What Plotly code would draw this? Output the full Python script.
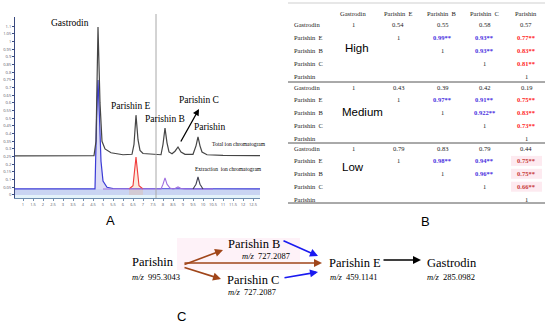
import plotly.graph_objects as go

W, H = 550, 325
def px(x): return x / W
def py(y): return 1 - y / H

# ---------------- Panel A data (chromatogram) ----------------
tic_t = [0.6, 4.55, 4.65, 4.75, 4.85, 4.95, 5.1, 5.4, 6.0, 6.45, 6.55, 6.65, 6.75, 6.85, 7.0,
         7.9, 8.0, 8.1, 8.2, 8.3, 8.45, 8.6, 8.75, 8.9, 9.1, 9.5, 9.65, 9.75, 9.85, 9.95, 10.2, 11.0, 12.85]
tic_i = [0.254, 0.256, 0.35, 1.094, 0.6, 0.35, 0.30, 0.275, 0.262, 0.265, 0.33, 0.52, 0.36, 0.29, 0.27,
         0.262, 0.33, 0.436, 0.34, 0.28, 0.268, 0.285, 0.3125, 0.28, 0.265, 0.265, 0.32, 0.378, 0.32, 0.28, 0.262, 0.258, 0.256]

eic_gas_t = [0.6, 4.6, 4.68, 4.75, 4.82, 4.9, 5.0, 5.2, 5.5, 12.85]
eic_gas_i = [0.039, 0.04, 0.5, 0.749, 0.52, 0.22, 0.09, 0.05, 0.042, 0.039]
eic_e_t = [6.3, 6.5, 6.58, 6.65, 6.72, 6.8, 7.0]
eic_e_i = [0.039, 0.06, 0.16, 0.247, 0.16, 0.06, 0.039]
eic_bc_t = [5.0, 7.9, 8.0, 8.1, 8.2, 8.35, 8.5, 8.6, 8.75, 8.9, 9.1, 10.5]
eic_bc_i = [0.039, 0.039, 0.07, 0.111, 0.07, 0.045, 0.039, 0.042, 0.052, 0.042, 0.039, 0.039]
eic_p_t = [9.5, 9.65, 9.75, 9.85, 10.0]
eic_p_i = [0.039, 0.07, 0.117, 0.07, 0.039]

x_ticks = [1 + 0.5 * i for i in range(24)]
y_ticks = [round(0.05 * i, 2) for i in range(23)]

# ---------------- Panel B data (correlation table) ----------------
col_names = ["Gastrodin", "Parishin  E", "Parishin  B", "Parishin  C", "Parishin"]
row_names = ["Gastrodin", "Parishin  E", "Parishin  B", "Parishin  C", "Parishin"]
levels = ["High", "Medium", "Low"]
high = [["1", "0.54", "0.55", "0.58", "0.57"],
        [None, "1", "0.99**", "0.93**", "0.77**"],
        [None, None, "1", "0.93**", "0.83**"],
        [None, None, None, "1", "0.81**"],
        [None, None, None, None, "1"]]
medium = [["1", "0.43", "0.39", "0.42", "0.19"],
          [None, "1", "0.97**", "0.91**", "0.75**"],
          [None, None, "1", "0.922**", "0.83**"],
          [None, None, None, "1", "0.73**"],
          [None, None, None, None, "1"]]
low = [["1", "0.79", "0.83", "0.79", "0.44"],
       [None, "1", "0.98**", "0.94**", "0.75**"],
       [None, None, "1", "0.96**", "0.75**"],
       [None, None, None, "1", "0.66**"],
       [None, None, None, None, "1"]]
tables = [high, medium, low]

# ---------------- Panel C data (pathway) ----------------
comp_names = ["Parishin", "Parishin B", "Parishin C", "Parishin E", "Gastrodin"]
comp_mz = ["995.3043", "727.2087", "727.2087", "459.1141", "285.0982"]

fig = go.Figure()

fig.add_trace(go.Scatter(x=eic_gas_t, y=eic_gas_i, mode="lines", line=dict(color="#3b3bd6", width=1.2),
                         fill="tozeroy", fillcolor="rgba(120,120,220,0.25)"))
fig.add_trace(go.Scatter(x=eic_e_t, y=eic_e_i, mode="lines", line=dict(color="#f03a3a", width=1.1),
                         fill="tozeroy", fillcolor="rgba(240,170,120,0.25)"))
fig.add_trace(go.Scatter(x=eic_bc_t, y=eic_bc_i, mode="lines", line=dict(color="#a070e0", width=1.1)))
fig.add_trace(go.Scatter(x=eic_p_t, y=eic_p_i, mode="lines", line=dict(color="#404050", width=1.1)))
fig.add_trace(go.Scatter(x=tic_t, y=tic_i, mode="lines", line=dict(color="#454545", width=1.2)))

shapes = []
shapes.append(dict(type="rect", xref="x", yref="y", x0=0.6, x1=12.85, y0=-0.02, y1=0.037,
                   fillcolor="#e4f3fa", line=dict(width=0), layer="below"))
shapes.append(dict(type="line", xref="x", yref="paper", x0=7.65, x1=7.65, y0=py(198), y1=py(14),
                   line=dict(color="#a8a8a8", width=1)))

ann = []
serif = "Liberation Serif"
sans = "Liberation Sans"

def text_ann(txt, xx, yy, size, family=serif, color="black", xanchor="center"):
    return dict(x=px(xx), y=py(yy), xref="paper", yref="paper", text=txt, showarrow=False,
                xanchor=xanchor, yanchor="middle", font=dict(family=family, size=size, color=color))

# Panel A labels
for txt, xx, yy in [("Gastrodin", 70, 23), ("Parishin E", 131, 106), ("Parishin B", 165, 119),
                    ("Parishin C", 199, 100), ("Parishin", 209, 127)]:
    ann.append(text_ann(txt, xx, yy, 9.5))
ann.append(dict(x=px(199), y=py(109), xref="paper", yref="paper", text="", showarrow=True,
                ax=-19, ay=34, arrowhead=2, arrowsize=1, arrowwidth=1.3, arrowcolor="black"))
ann.append(text_ann("Total ion chromatogram", 210, 144, 5.5, xanchor="left"))
ann.append(text_ann("Extraction  ion chromatogram", 193, 169, 5.5, xanchor="left"))

# panel letters
for txt, xx, yy in [("A", 110, 220), ("B", 425, 222), ("C", 181, 316)]:
    ann.append(text_ann(txt, xx, yy, 13, family=sans))

# Panel B table
col_x = [353, 398, 442, 484, 526]
block_y = [25, 87, 148]
row_step = 12.9
tfs = 6.5
for j, c in enumerate(col_names):
    ann.append(text_ann(c, col_x[j], 13, tfs, color="#222"))
for line_y in [3, 82, 143, 203]:
    shapes.append(dict(type="line", xref="paper", yref="paper", x0=px(288), x1=px(545),
                       y0=py(line_y), y1=py(line_y),
                       line=dict(color="#cfcfcf" if line_y == 3 else "#555", width=1)))
for b, (lvl, tab) in enumerate(zip(levels, tables)):
    y0 = block_y[b]
    for i, rn in enumerate(row_names):
        yy = y0 + i * row_step
        ann.append(text_ann(rn, 292, yy, tfs, color="#222", xanchor="left"))
        for j, v in enumerate(tab[i]):
            if v is None:
                continue
            color, txt = "#222222", v
            if "**" in v:
                if j == 4:
                    color = "#c83a3a" if lvl == "Low" else "#ff1f1f"
                    if lvl == "Low":
                        shapes.append(dict(type="rect", xref="paper", yref="paper",
                                           x0=px(511), x1=px(542), y0=py(yy + 5), y1=py(yy - 5),
                                           fillcolor="#fdeaf0", line=dict(width=0), layer="below"))
                else:
                    color = "#4a2ee0"
                txt = "<b>" + v + "</b>"
            ann.append(text_ann(txt, col_x[j], yy, tfs, color=color))
lvl_pos = [(357, 48), (362, 112), (353, 167)]
for lvl, (xx, yy) in zip(levels, lvl_pos):
    ann.append(text_ann(lvl, xx, yy, 11.5, family=sans))

# Panel C pathway
shapes.append(dict(type="rect", xref="paper", yref="paper", x0=px(177), x1=px(300), y0=py(270), y1=py(238),
                   fillcolor="#fef2f8", line=dict(width=0), layer="below"))
name_pos = [(130, 262), (226, 244), (225, 280), (327, 263), (425, 263)]
mz_pos = [(130, 277), (240, 256), (226, 292), (328, 277), (425, 277)]
for nm, mz, (nx, ny), (mx, my) in zip(comp_names, comp_mz, name_pos, mz_pos):
    ann.append(text_ann(nm, nx, ny, 12.5, xanchor="left"))
    ann.append(text_ann("<i>m/z</i>  " + mz, mx, my, 8.5, xanchor="left"))

arrows = [  # head (x,y), tail offset, color
    (223, 250, -40, 15, "#a0461a"),
    (322, 263, -139, 0, "#a0461a"),
    (221, 279, -38, -12, "#a0461a"),
    (318, 256, -36, -16, "#1a1af0"),
    (318, 272, -35, 6, "#1a1af0"),
    (421, 260, -39, 0, "black"),
]
for hx, hy, ax, ay, col in arrows:
    ann.append(dict(x=px(hx), y=py(hy), xref="paper", yref="paper", text="", showarrow=True,
                    ax=ax, ay=ay, arrowhead=2, arrowsize=1, arrowwidth=1.6, arrowcolor=col))

fig.update_layout(
    width=W, height=H, margin=dict(l=0, r=0, t=0, b=0),
    paper_bgcolor="white", plot_bgcolor="white", showlegend=False, hovermode=False,
    shapes=shapes, annotations=ann,
    xaxis=dict(domain=[px(15), px(260)], range=[0.6, 12.85], tickvals=x_ticks,
               ticktext=[("%g" % v) for v in x_ticks], tickfont=dict(size=4, color="#556"),
               showgrid=False, zeroline=False, showline=True, linecolor="#6f8fb0", linewidth=1,
               ticks="outside", ticklen=2, tickcolor="#6f8fb0", automargin=False),
    yaxis=dict(domain=[py(198), py(17)], range=[-0.02, 1.16], tickvals=y_ticks,
               ticktext=[("%g" % v) for v in y_ticks], tickfont=dict(size=4, color="#556"),
               showgrid=False, zeroline=False, showline=True, linecolor="#3a4a80", linewidth=1,
               ticks="outside", ticklen=2, tickcolor="#3a4a80", automargin=False),
)

fig.write_html("out.html", config={"displayModeBar": False},
               post_script="document.body.style.margin='0px';document.body.style.overflow='hidden';")
